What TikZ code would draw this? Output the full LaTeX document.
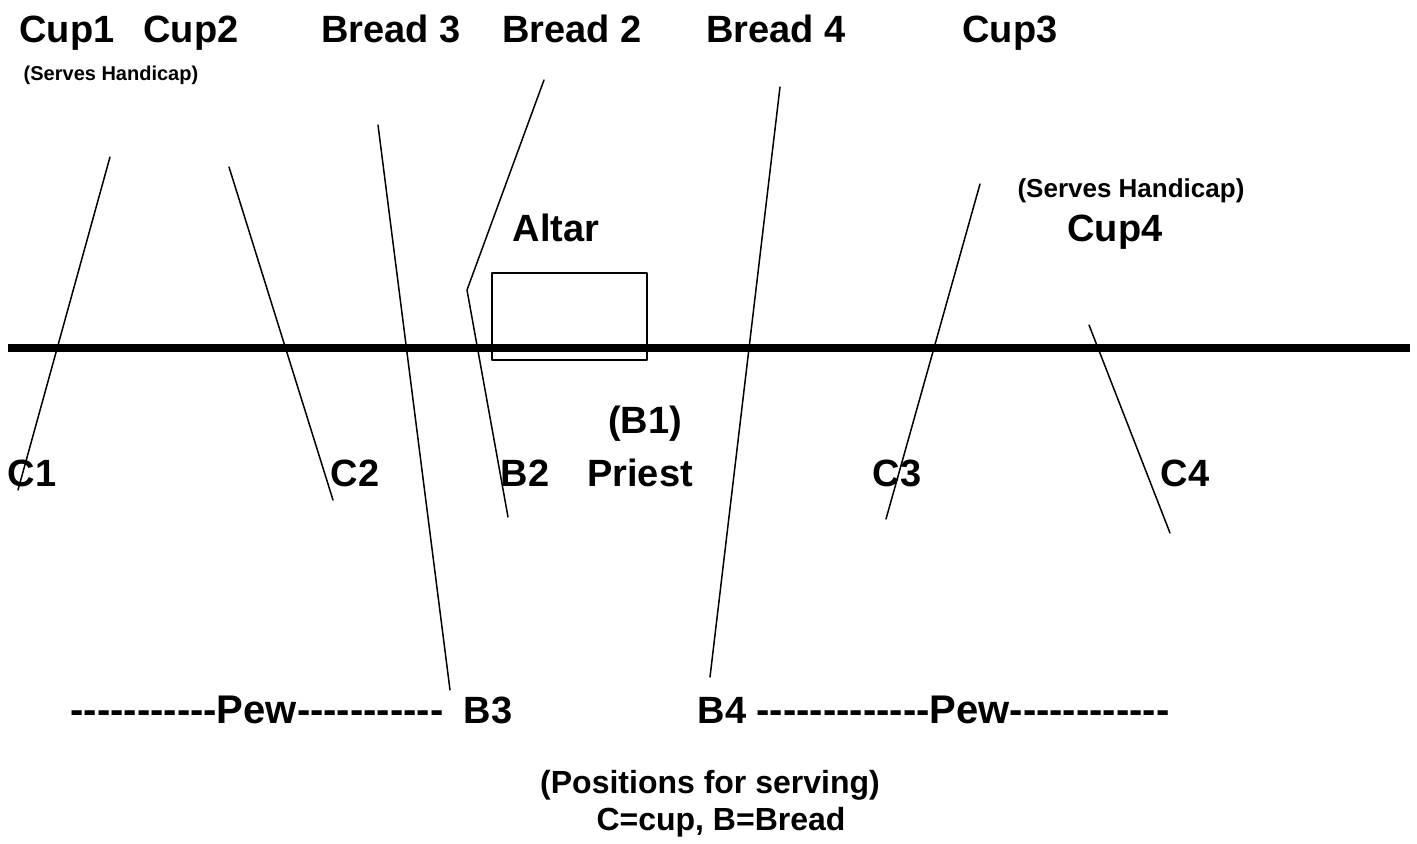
\documentclass[tikz,border=0pt]{standalone}
\usepackage{fontspec}
\setmainfont{Liberation Sans}
\newfontfamily\pewfont{Liberation Sans}
\usepackage{tikz}

\begin{document}
\begin{tikzpicture}[line cap=round,line join=round,x=0.5pt,y=-0.5pt,
  big/.style={anchor=base,font=\bfseries\fontsize{19}{22}\selectfont,inner sep=0pt},
  pew/.style={anchor=base,font=\pewfont\bfseries\fontsize{20}{23}\selectfont,inner sep=0pt},
  small/.style={anchor=base,font=\bfseries\fontsize{10}{12}\selectfont,inner sep=0pt},
  mid/.style={anchor=base,font=\bfseries\fontsize{13}{15}\selectfont,inner sep=0pt},
  note/.style={anchor=base,font=\bfseries\fontsize{16}{19}\selectfont,inner sep=0pt}]
\useasboundingbox (0,0) rectangle (1417,844);

% rail and altar
\draw [line width=4pt, line cap=butt] (8,348) -- (1410,348);
\draw [line width=0.75pt] (492,273) rectangle (647,360);

% who stands where
\node[big] (cup1) at (67,43) {Cup1};
\node[big] (cup2) at (191,43) {Cup2};
\node[small] (hc1) at (111,81) {(Serves Handicap)};
\node[big] (bread3) at (391,43) {Bread 3};
\node[big] (bread2) at (572,43) {Bread 2};
\node[big] (bread4) at (776,43) {Bread 4};
\node[big] (cup3) at (1010,43) {Cup3};
\node[mid] (hc4) at (1131,198) {(Serves Handicap)};
\node[big] (cup4) at (1115,242) {Cup4};
\node[big] (altar) at (556,242) {Altar};

\node[big] (b1) at (645,433) {(B1)};
\node[big] (priest) at (640,486) {Priest};
\node[big] (c1) at (32,486) {C1};
\node[big] (c2) at (355,486) {C2};
\node[big] (b2) at (525,486) {B2};
\node[big] (c3) at (897,486) {C3};
\node[big] (c4) at (1185,486) {C4};

\node[pew] (pew1) at (257,723) {-----------Pew-----------};
\node[big] (b3) at (488,723) {B3};
\node[big] (b4) at (722,723) {B4};
\node[pew] (pew2) at (963,723) {-------------Pew------------};

\node[note] (key1) at (710,793) {(Positions for serving)};
\node[note] (key2) at (721,830) {C=cup, B=Bread};

% paths to the serving spots
\draw [line width=0.75pt] (110,157) -- (18,490);
\draw [line width=0.75pt] (229,167) -- (333,500);
\draw [line width=0.75pt] (378,125) -- (450,690);
\draw [line width=0.75pt] (544,80) -- (467,290) -- (508,517);
\draw [line width=0.75pt] (780,87) -- (710,677);
\draw [line width=0.75pt] (980,184) -- (886,519);
\draw [line width=0.75pt] (1089,325) -- (1170,533);
\end{tikzpicture}
\end{document}
